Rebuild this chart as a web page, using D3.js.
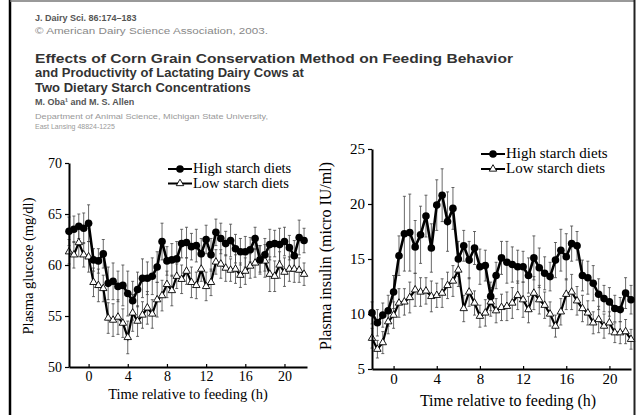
<!DOCTYPE html>
<html>
<head>
<meta charset="utf-8">
<script src="https://cdn.jsdelivr.net/npm/d3@7"></script>
<style>
  body { margin: 0; background: #fff; }
  svg { display: block; }
</style>
</head>
<body>
<div id="chart"></div>
<script>
// sample times, every 30 min from 2 h before feeding
let times = d3.range(49).map(i => -2 + i * 0.5);

let glucoseHigh = [63.3, 63.5, 63.8, 63.6, 64.1, 60.5, 60.4, 61.1, 58.2, 58.4, 57.9, 58.0, 57.2, 56.5, 57.6, 58.7, 58.7, 58.9, 59.8, 62.3,
    60.4, 60.5, 60.6, 62.1, 62.2, 61.8, 61.9, 61.1, 62.5, 61.0, 63.2, 62.6, 62.1, 62.4, 61.6, 61.3, 61.3, 61.5, 62.6, 60.5,
    61.0, 62.0, 62.1, 62.0, 62.3, 61.7, 60.9, 62.7, 62.4];
let glucoseHighSe = [1.4, 1.3, 1.2, 1.5, 1.8, 1.1, 1.2, 1.4, 1.6, 1.8, 1.5, 2.0, 2.2, 1.9, 1.7, 1.9, 1.6, 1.8, 1.5, 1.8,
    1.4, 1.6, 1.7, 1.4, 1.5, 1.3, 1.6, 1.5, 1.4, 1.6, 1.3, 1.5, 1.2, 1.6, 1.4, 1.3, 1.5, 1.2, 1.1, 1.4,
    1.6, 1.5, 1.3, 1.6, 1.4, 1.2, 1.5, 1.7, 1.2];
let glucoseLow = [61.3, 61.0, 62.2, 61.0, 60.8, 58.3, 58.0, 57.7, 54.8, 54.6, 54.9, 54.3, 52.9, 55.3, 54.5, 55.1, 55.8, 55.2, 56.6, 57.0,
    58.1, 57.5, 58.9, 58.6, 59.4, 58.3, 58.0, 59.6, 57.9, 58.3, 60.3, 60.1, 59.7, 59.5, 59.6, 59.0, 59.4, 59.9, 60.2, 60.6,
    60.4, 59.1, 58.9, 60.0, 59.3, 59.6, 59.6, 59.5, 59.1];
let glucoseLowSe = [1.2, 1.3, 1.4, 1.2, 1.5, 1.4, 1.6, 1.3, 1.5, 1.6, 1.7, 1.4, 1.6, 1.8, 1.5, 1.3, 1.6, 1.4, 1.7, 1.5,
    1.3, 1.5, 1.2, 1.4, 1.3, 1.5, 1.3, 1.2, 1.4, 1.3, 1.2, 1.4, 1.3, 1.1, 1.4, 1.2, 1.3, 1.2, 1.4, 1.3,
    1.6, 1.7, 1.5, 1.3, 1.4, 1.2, 1.3, 1.2, 1.1];

let insulinHigh = [10.1, 9.2, 9.9, 10.3, 12.0, 15.3, 17.3, 17.4, 16.1, 17.2, 18.9, 16.0, 19.9, 20.8, 18.4, 19.6, 15.0, 16.2, 14.9, 16.0,
    14.3, 14.4, 11.6, 13.5, 15.1, 14.7, 14.5, 14.3, 14.3, 13.5, 15.1, 14.2, 13.7, 13.4, 14.9, 15.8, 15.2, 16.4, 16.2, 13.5,
    13.3, 12.8, 11.8, 11.4, 11.1, 10.5, 10.4, 11.9, 11.3];
let insulinHighSe = [1.0, 1.2, 1.1, 1.4, 1.5, 1.8, 3.4, 3.5, 2.4, 2.6, 1.9, 2.2, 2.3, 2.4, 2.7, 1.9, 1.6, 1.4, 1.7, 1.5,
    1.6, 1.4, 1.3, 1.2, 1.5, 1.9, 1.6, 1.5, 1.4, 1.6, 2.0, 1.8, 1.5, 1.3, 1.6, 1.9, 2.1, 1.6, 1.3, 1.4,
    1.5, 1.6, 1.4, 1.2, 1.3, 1.2, 1.1, 1.4, 1.3];
let insulinLow = [7.8, 6.8, 7.4, 9.3, 9.9, 11.0, 11.1, 11.5, 12.2, 12.0, 12.1, 11.6, 11.7, 11.9, 12.6, 13.0, 14.0, 10.5, 12.0, 11.0,
    9.8, 10.1, 11.1, 10.3, 10.6, 10.7, 11.0, 11.7, 11.3, 10.4, 11.9, 11.3, 10.8, 10.0, 8.9, 10.2, 11.8, 12.0, 11.2, 10.5,
    10.1, 9.2, 9.5, 8.9, 9.2, 8.3, 8.3, 8.4, 7.7];
let insulinLowSe = [0.9, 0.8, 1.0, 1.1, 1.2, 1.3, 1.2, 1.4, 1.5, 1.3, 1.2, 1.4, 1.1, 1.3, 1.2, 1.4, 1.5, 1.2, 1.3, 1.1,
    1.0, 1.2, 1.3, 1.1, 1.2, 1.3, 1.4, 1.3, 1.6, 1.2, 1.5, 1.3, 1.2, 1.1, 1.0, 1.2, 1.4, 1.6, 1.3, 1.2,
    1.1, 1.0, 1.2, 1.1, 1.0, 0.9, 1.0, 1.1, 0.9];

let xTicks = [0, 4, 8, 12, 16, 20];
let glucoseTicks = [50, 55, 60, 65, 70];
let insulinTicks = [5, 10, 15, 20, 25];
let seriesNames = ["High starch diets", "Low starch diets"];

let headerLines = [
    {text: "J. Dairy Sci. 86:174\u2013183", y: 21, size: 9, weight: "bold", fill: "#555"},
    {text: "\u00a9 American Dairy Science Association, 2003.", y: 34, size: 8.5, weight: "normal", fill: "#888", len: 233},
    {text: "Effects of Corn Grain Conservation Method on Feeding Behavior", y: 63, size: 13, weight: "bold", fill: "#333", len: 478},
    {text: "and Productivity of Lactating Dairy Cows at", y: 77, size: 13, weight: "bold", fill: "#333"},
    {text: "Two Dietary Starch Concentrations", y: 92, size: 13, weight: "bold", fill: "#333"},
    {text: "M. Oba\u00b9 and M. S. Allen", y: 105, size: 9, weight: "bold", fill: "#555"},
    {text: "Department of Animal Science, Michigan State University,", y: 119, size: 7, weight: "normal", fill: "#999", len: 233},
    {text: "East Lansing 48824-1225", y: 129, size: 7, weight: "normal", fill: "#999"}
];

let W = 638, H = 415;
let svg = d3.select("#chart").append("svg")
    .attr("width", W)
    .attr("height", H);

// page frame
svg.append("line").attr("x1", 10).attr("x2", 10).attr("y1", 0).attr("y2", H)
    .attr("stroke", "#000").attr("stroke-width", 2.5);
svg.append("line").attr("x1", 10).attr("x2", 635).attr("y1", 1).attr("y2", 1)
    .attr("stroke", "#777").attr("stroke-width", 1.5);
svg.append("line").attr("x1", 634.5).attr("x2", 634.5).attr("y1", 0).attr("y2", H)
    .attr("stroke", "#222").attr("stroke-width", 2);

// article header
for (let h of headerLines) {
    let t = svg.append("text")
        .attr("x", 35)
        .attr("y", h.y)
        .attr("font-family", "Liberation Sans, Arial, sans-serif")
        .attr("font-size", h.size)
        .attr("font-weight", h.weight)
        .attr("fill", h.fill)
        .text(h.text);
    if (h.len) t.attr("textLength", h.len).attr("lengthAdjust", "spacingAndGlyphs");
}

function draw_panel(cfg) {
    let g = svg.append("g");
    let x = d3.scaleLinear().domain(cfg.xDomain).range(cfg.xRange);
    let y = d3.scaleLinear().domain(cfg.yDomain).range(cfg.yRange);
    let serif = "Liberation Serif, Times New Roman, serif";

    // error bars
    let series = [
        {vals: cfg.high, se: cfg.highSe},
        {vals: cfg.low, se: cfg.lowSe}
    ];
    for (let s of series) {
        let eb = g.append("g").attr("stroke", "#444").attr("stroke-width", 0.8);
        times.forEach((t, i) => {
            let cx = x(t);
            let y1 = y(s.vals[i] + s.se[i]), y2 = y(s.vals[i] - s.se[i]);
            eb.append("line").attr("x1", cx).attr("x2", cx).attr("y1", y1).attr("y2", y2);
            eb.append("line").attr("x1", cx - 1.5).attr("x2", cx + 1.5).attr("y1", y1).attr("y2", y1);
            eb.append("line").attr("x1", cx - 1.5).attr("x2", cx + 1.5).attr("y1", y2).attr("y2", y2);
        });
    }

    let line = d3.line().x((d, i) => x(times[i])).y(d => y(d));

    g.append("path").datum(cfg.low)
        .attr("d", line).attr("fill", "none").attr("stroke", "#000").attr("stroke-width", 2.2);
    g.append("path").datum(cfg.high)
        .attr("d", line).attr("fill", "none").attr("stroke", "#000").attr("stroke-width", 2.6);

    let tri = d3.symbol().type(d3.symbolTriangle).size(24);
    g.selectAll(".low").data(cfg.low).join("path")
        .attr("transform", (d, i) => `translate(${x(times[i])},${y(d)})`)
        .attr("d", tri)
        .attr("fill", "#fff").attr("stroke", "#000").attr("stroke-width", 0.9);
    g.selectAll(".high").data(cfg.high).join("circle")
        .attr("cx", (d, i) => x(times[i]))
        .attr("cy", d => y(d))
        .attr("r", 3.8)
        .attr("fill", "#000");

    // axes
    let xAxis = g.append("g")
        .attr("transform", `translate(0,${cfg.yRange[0]})`)
        .call(d3.axisBottom(x).tickValues(xTicks).tickSize(-3).tickPadding(4).tickSizeOuter(0));
    let yAxis = g.append("g")
        .attr("transform", `translate(${cfg.xRange[0]},0)`)
        .call(d3.axisLeft(y).tickValues(cfg.yTicks).tickSize(4).tickPadding(3).tickSizeOuter(0));
    for (let a of [xAxis, yAxis]) {
        a.select(".domain").attr("stroke", "#000").attr("stroke-width", 2);
        a.selectAll(".tick line").attr("stroke", "#000").attr("stroke-width", 1.2);
        a.selectAll("text").attr("font-family", serif).attr("font-size", cfg.tickSize).attr("fill", "#000");
    }

    g.append("text")
        .attr("x", cfg.xTitleX)
        .attr("y", cfg.xTitleY)
        .attr("text-anchor", "middle")
        .attr("font-family", serif).attr("font-size", cfg.titleSize)
        .text("Time relative to feeding (h)");
    g.append("text")
        .attr("transform", `translate(${cfg.yTitleX},${cfg.yTitleMid}) rotate(-90)`)
        .attr("text-anchor", "middle")
        .attr("font-family", serif).attr("font-size", cfg.titleSize)
        .text(cfg.yTitle);

    // legend
    let lg = g.append("g").attr("transform", `translate(${cfg.legend[0]},${cfg.legend[1]})`);
    seriesNames.forEach((name, i) => {
        let ly = i * cfg.legendStep;
        lg.append("line").attr("x1", 0).attr("x2", 24).attr("y1", ly).attr("y2", ly)
            .attr("stroke", "#000").attr("stroke-width", 2);
        if (i == 0) {
            lg.append("circle").attr("cx", 12).attr("cy", ly).attr("r", 3.8).attr("fill", "#000");
        } else {
            lg.append("path").attr("transform", `translate(12,${ly})`).attr("d", tri)
                .attr("fill", "#fff").attr("stroke", "#000").attr("stroke-width", 0.9);
        }
        lg.append("text").attr("x", 25).attr("y", ly + 4)
            .attr("font-family", serif).attr("font-size", cfg.legendSize)
            .text(name);
    });
}

draw_panel({
    xDomain: [-2, 22.3], xRange: [69, 307],
    yDomain: [50, 70], yRange: [367, 163],
    yTicks: glucoseTicks,
    high: glucoseHigh, highSe: glucoseHighSe,
    low: glucoseLow, lowSe: glucoseLowSe,
    tickSize: 14, titleSize: 14.5, legendSize: 14.5, legendStep: 14.5,
    yTitle: "Plasma glucose (mg/dl)", yTitleX: 33, yTitleMid: 266,
    xTitleX: 188, xTitleY: 399,
    legend: [168, 169]
});

draw_panel({
    xDomain: [-2, 22], xRange: [372, 631],
    yDomain: [5, 25], yRange: [369, 149],
    yTicks: insulinTicks,
    high: insulinHigh, highSe: insulinHighSe,
    low: insulinLow, lowSe: insulinLowSe,
    tickSize: 15, titleSize: 16, legendSize: 15, legendStep: 15,
    yTitle: "Plasma insulin (micro IU/ml)", yTitleX: 331, yTitleMid: 256,
    xTitleX: 508, xTitleY: 406,
    legend: [481, 154]
});
</script>
</body>
</html>
